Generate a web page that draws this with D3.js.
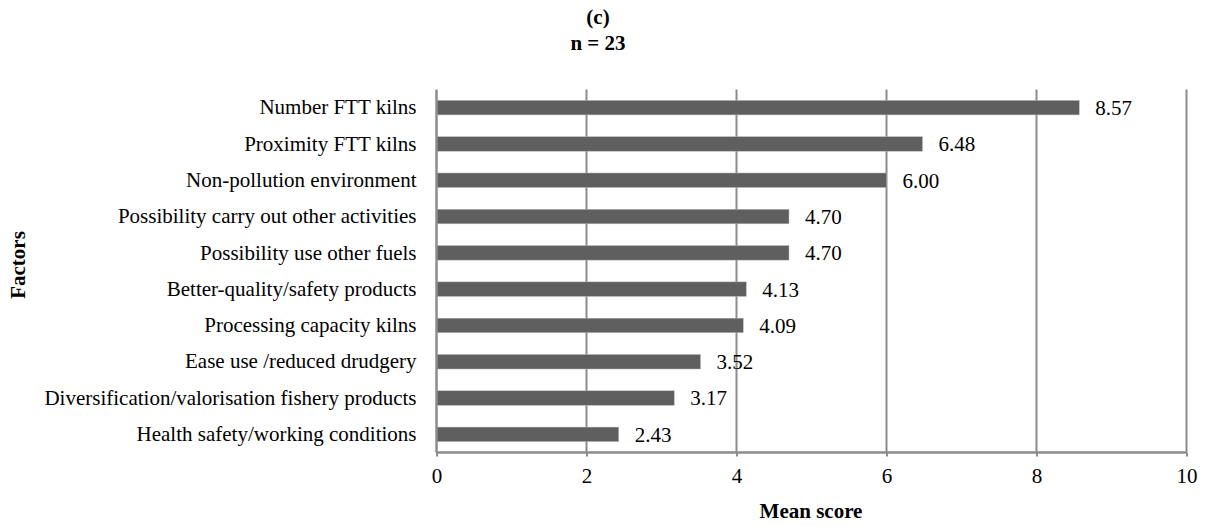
<!DOCTYPE html>
<html><head><meta charset="utf-8">
<script src="https://cdn.jsdelivr.net/npm/d3@7"></script>
<style>
body{margin:0;background:#fff;}
svg{display:block;font-family:"Liberation Serif","Times New Roman",serif;}
</style></head>
<body><svg id="c" width="1208" height="526"></svg>
<script>
const categories = ["Number FTT kilns","Proximity FTT kilns","Non-pollution environment","Possibility carry out other activities","Possibility use other fuels","Better-quality/safety products","Processing capacity kilns","Ease use /reduced drudgery","Diversification/valorisation fishery products","Health safety/working conditions"];
const values = [8.57,6.48,6.00,4.70,4.70,4.13,4.09,3.52,3.17,2.43];
const xTicks = [0,2,4,6,8,10];
const titleLines = ["(c)","n = 23"];
const xTitle = "Mean score";
const yTitle = "Factors";

const FS = 21;
const svg = d3.select("#c");
const m = {left:436.5, right:1186.5, top:89.5, bottom:452.5};
const x = d3.scaleLinear().domain([0,10]).range([m.left,m.right]);
const y = d3.scaleBand().domain(categories).range([m.top,m.bottom]).paddingInner(0.6).paddingOuter(0.3);

// gridlines
svg.append("g").selectAll("line").data(xTicks.filter(d=>d>0)).join("line")
  .attr("x1",d=>x(d)).attr("x2",d=>x(d)).attr("y1",m.top).attr("y2",m.bottom)
  .attr("stroke","#8c8c8c").attr("stroke-width",2);

// bars
svg.append("g").selectAll("rect").data(values).join("rect")
  .attr("x",x(0)).attr("y",(d,i)=>y(categories[i]))
  .attr("width",d=>x(d)-x(0)).attr("height",y.bandwidth())
  .attr("fill","#5f5f5f").attr("stroke","#b8b8b8").attr("stroke-width",0.5);

// value labels
svg.append("g").selectAll("text").data(values).join("text")
  .attr("x",d=>x(d)+16).attr("y",(d,i)=>y(categories[i])+y.bandwidth()/2)
  .attr("dy","0.35em").attr("font-size",FS).attr("fill","#000")
  .text(d=>d.toFixed(2));

// x axis
const xa = svg.append("g").attr("transform",`translate(0,${m.bottom})`)
  .call(d3.axisBottom(x).tickValues(xTicks).tickSize(4).tickPadding(11.5).tickFormat(d3.format("d")));
xa.attr("font-family",null).attr("font-size",null);
xa.select(".domain").attr("stroke","#8c8c8c").attr("stroke-width",2.5).attr("d",`M${m.left},0H${m.right}`);
xa.selectAll(".tick line").attr("stroke","#8c8c8c").attr("stroke-width",2);
xa.selectAll(".tick text").attr("font-size",FS).attr("fill","#000");

// y axis
const ya = svg.append("g").attr("transform",`translate(${m.left},0)`)
  .call(d3.axisLeft(y).tickSize(0).tickPadding(20));
ya.attr("font-family",null).attr("font-size",null);
ya.select(".domain").attr("stroke","#8c8c8c").attr("stroke-width",2.5).attr("d",`M0,${m.top}V${m.bottom}`);
ya.selectAll(".tick text").attr("font-size",FS).attr("fill","#000");

// titles
svg.append("g").selectAll("text").data(titleLines).join("text")
  .attr("x",598).attr("y",(d,i)=>24+i*26).attr("text-anchor","middle")
  .attr("font-size",FS).attr("font-weight","bold").text(d=>d);
svg.append("text").attr("x",811).attr("y",518).attr("text-anchor","middle")
  .attr("font-size",FS).attr("font-weight","bold").text(xTitle);
svg.append("text").attr("transform","translate(25,265) rotate(-90)").attr("text-anchor","middle")
  .attr("font-size",FS).attr("font-weight","bold").text(yTitle);
</script></body></html>
